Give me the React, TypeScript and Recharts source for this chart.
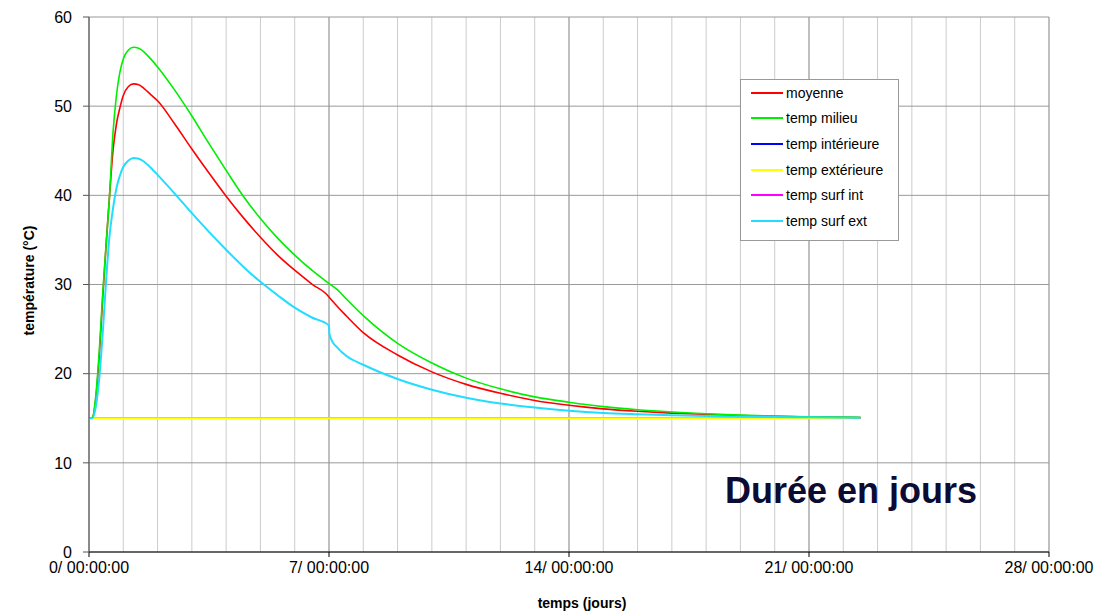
import { LineChart, Line, XAxis, YAxis, CartesianGrid, Legend, Label } from 'recharts';

// time in days
const days = [0, 0.1, 0.2, 0.3, 0.4, 0.5, 0.6, 0.7, 0.8, 0.9, 1, 1.15, 1.3, 1.45, 1.6, 1.8, 2, 2.5, 3, 3.5, 4, 4.5, 5, 5.5, 6, 6.5, 7, 7.01, 7.1, 7.25, 7.5, 8, 9, 10, 11, 12, 13, 14, 15, 16, 17, 18, 19, 20, 21, 22.5];

const moyenne = [15, 15.1, 17.3, 22, 28.5, 34.5, 40, 45, 48, 49.8, 51.2, 52.2, 52.5, 52.4, 52, 51.3, 50.6, 48, 45.2, 42.5, 39.9, 37.5, 35.3, 33.3, 31.6, 30.05, 28.6, 28.55, 28.15, 27.5, 26.5, 24.6, 22.1, 20.2, 18.8, 17.8, 17, 16.45, 16.05, 15.78, 15.58, 15.43, 15.31, 15.22, 15.15, 15.08];
const tempMilieu = [15, 15.1, 17.6, 22.6, 29, 34.5, 40, 47, 51.2, 53.8, 55.3, 56.3, 56.6, 56.5, 56.1, 55.3, 54.4, 51.8, 48.9, 45.8, 42.8, 39.9, 37.4, 35.2, 33.3, 31.6, 30.1, 30.07, 29.85, 29.4, 28.4, 26.5, 23.4, 21.2, 19.5, 18.3, 17.4, 16.8, 16.3, 15.95, 15.7, 15.5, 15.35, 15.25, 15.17, 15.1];
const tempInterieure = days.map(() => 15);
const tempExterieure = days.map(() => 15);
const tempSurfInt = days.map(() => 15);
const tempSurfExt = [15, 15, 16.3, 19.5, 24.5, 30.5, 35.5, 38.5, 40.8, 42.2, 43.2, 43.9, 44.2, 44.1, 43.8, 43.1, 42.3, 40.2, 38, 35.9, 33.9, 32, 30.3, 28.8, 27.4, 26.3, 25.4, 24.5, 23.6, 22.9, 22, 21, 19.4, 18.2, 17.3, 16.65, 16.2, 15.85, 15.6, 15.45, 15.33, 15.25, 15.18, 15.13, 15.1, 15.05];

const xTicks = [0, 7, 14, 21, 28];
const dayTicks = Array.from({ length: 29 }, (_, i) => i);
const yTicks = [0, 10, 20, 30, 40, 50, 60];

const series = [
  { key: 'moyenne', name: 'moyenne', color: '#ff0000' },
  { key: 'milieu', name: 'temp milieu', color: '#00ee00' },
  { key: 'interieure', name: 'temp intérieure', color: '#0000ff' },
  { key: 'exterieure', name: 'temp extérieure', color: '#ffff00' },
  { key: 'surfInt', name: 'temp surf int', color: '#ff00ff' },
  { key: 'surfExt', name: 'temp surf ext', color: '#22ddff' },
];

const data = days.map((d, i) => ({
  t: d,
  moyenne: moyenne[i],
  milieu: tempMilieu[i],
  interieure: tempInterieure[i],
  exterieure: tempExterieure[i],
  surfInt: tempSurfInt[i],
  surfExt: tempSurfExt[i],
}));

const font = '"Liberation Sans", Arial, sans-serif';

function LegendBox() {
  return (
    <div style={{ border: '1px solid #999', background: '#fff', padding: '0 0 6px 10px', fontFamily: font, fontSize: 14 }}>
      {series.map(s => (
        <div key={s.key} style={{ display: 'flex', alignItems: 'center', height: 25.6 }}>
          <span style={{ display: 'inline-block', width: 32, height: 2, background: s.color, marginRight: 3 }} />
          <span>{s.name}</span>
        </div>
      ))}
    </div>
  );
}

export default function App() {
  const lineOrder = ['interieure', 'surfInt', 'exterieure', 'moyenne', 'milieu', 'surfExt'];
  return (
    <div style={{ position: 'relative', width: 1106, height: 614 }}>
      <style>{'body{margin:0}'}</style>
      <LineChart width={1106} height={614} data={data} margin={{ top: 17, right: 57, bottom: 0, left: 0 }}>
        <CartesianGrid xAxisId="grid" horizontal={false} stroke="#cccccc" />
        <CartesianGrid xAxisId="main" stroke="#999999" />
        <XAxis xAxisId="grid" dataKey="t" type="number" domain={[0, 28]} ticks={dayTicks} height={0} hide />
        <XAxis
          xAxisId="main"
          dataKey="t"
          type="number"
          domain={[0, 28]}
          ticks={xTicks}
          tickFormatter={v => `${v}/ 00:00:00`}
          height={62}
          tickSize={5}
          tickMargin={5}
          stroke="#000"
          tick={{ fill: '#000', fontSize: 16, fontFamily: font }}
        >
          <Label value="temps (jours)" position="insideBottom" offset={6} dx={13} style={{ fontWeight: 'bold', fontSize: 14, fontFamily: font, fill: '#000' }} />
        </XAxis>
        <YAxis
          domain={[0, 60]}
          ticks={yTicks}
          width={89}
          tickSize={6}
          tickMargin={11}
          stroke="#555"
          tick={{ fill: '#000', fontSize: 16, fontFamily: font }}
        >
          <Label value="température (°C)" angle={-90} position="insideLeft" offset={29} dy={-4} style={{ textAnchor: 'middle', fontWeight: 'bold', fontSize: 14, fontFamily: font, fill: '#000' }} />
        </YAxis>
        <Legend layout="vertical" align="center" verticalAlign="middle" content={() => <LegendBox />} wrapperStyle={{ left: 740, top: 79, width: 159, bottom: 'auto', right: 'auto' }} />
        {lineOrder.map(k => {
          const s = series.find(x => x.key === k)!;
          return (
            <Line
              key={k}
              xAxisId="main"
              type="monotone"
              dataKey={k}
              name={s.name}
              stroke={s.color}
              strokeWidth={k === 'surfExt' || k === 'exterieure' ? 2 : 1.6}
              dot={false}
              isAnimationActive={false}
            />
          );
        })}
      </LineChart>
      <div style={{ position: 'absolute', left: 725, top: 470, fontFamily: font, fontWeight: 'bold', fontSize: 36, color: '#0b0b33' }}>
        Durée en jours
      </div>
    </div>
  );
}
